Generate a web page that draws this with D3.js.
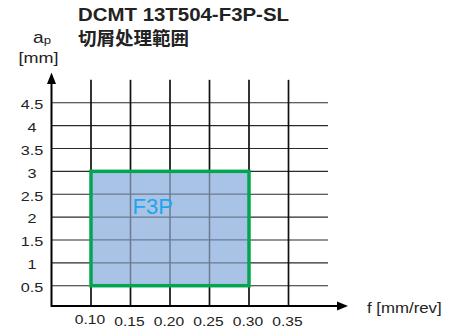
<!DOCTYPE html>
<html>
<head>
<meta charset="utf-8">
<script src="https://cdn.jsdelivr.net/npm/d3@7"></script>
<style>
  html, body { margin: 0; padding: 0; background: #fff; }
  svg { display: block; }
  text { font-family: "Liberation Sans", Arial, Helvetica, sans-serif; fill: #222; }
</style>
</head>
<body>
<svg id="chart" width="459" height="334"></svg>
<script>
// Feed rate (mm/rev) grid positions and labels
const feedTicks = [0.10, 0.15, 0.20, 0.25, 0.30, 0.35];
const feedLabels = ["0.10", "0.15", "0.20", "0.25", "0.30", "0.35"];
// Depth of cut (mm) grid positions and labels
const depthTicks = [0.5, 1, 1.5, 2, 2.5, 3, 3.5, 4, 4.5];
const depthLabels = ["0.5", "1", "1.5", "2", "2.5", "3", "3.5", "4", "4.5"];
// Chip-control region for the F3P breaker
const regionName = "F3P";
const regionFeed = [0.10, 0.30];
const regionDepth = [0.5, 3];
const titleLines = ["DCMT 13T504-F3P-SL", "切屑处理範囲"];

const svg = d3.select("#chart");
const WIDE = 1.2; // horizontal stretch of the lettering

// place a text at (px, py) and widen it horizontally
function placeWide(sel, px, py, k = WIDE) {
  return sel.attr("transform", `translate(${px},${py}) scale(${k},1)`);
}

const x = d3.scaleLinear().domain([0.05, 0.40]).range([51.5, 328]);
const y = d3.scaleLinear().domain([0.5, 4.5]).range([285.7, 102.7]);
const axisY = 306;
const gridTop = y(5);

// horizontal grid
svg.append("g").selectAll("line").data(depthTicks).join("line")
  .attr("x1", x(0.05)).attr("x2", x(0.40))
  .attr("y1", d => y(d)).attr("y2", d => y(d))
  .attr("stroke", "#2a2a2a").attr("stroke-width", 1.1);

// vertical grid
svg.append("g").selectAll("line").data(feedTicks).join("line")
  .attr("x1", d => x(d)).attr("x2", d => x(d))
  .attr("y1", gridTop).attr("y2", axisY)
  .attr("stroke", "#111").attr("stroke-width", 1.7);

// region fill
const rx = x(regionFeed[0]), rw = x(regionFeed[1]) - x(regionFeed[0]);
const ry = y(regionDepth[1]), rh = y(regionDepth[0]) - y(regionDepth[1]);
svg.append("clipPath").attr("id", "regionClip")
  .append("rect").attr("x", rx).attr("y", ry).attr("width", rw).attr("height", rh);
svg.append("rect")
  .attr("x", rx).attr("y", ry).attr("width", rw).attr("height", rh)
  .attr("fill", "#a9c3e7");

// grid seen through the region
const inner = svg.append("g").attr("clip-path", "url(#regionClip)");
inner.selectAll("line.h").data(depthTicks).join("line").attr("class", "h")
  .attr("x1", x(0.05)).attr("x2", x(0.40))
  .attr("y1", d => y(d)).attr("y2", d => y(d))
  .attr("stroke", "#6b7a90").attr("stroke-width", 1.3);
inner.selectAll("line.v").data(feedTicks).join("line").attr("class", "v")
  .attr("x1", d => x(d)).attr("x2", d => x(d))
  .attr("y1", gridTop).attr("y2", axisY)
  .attr("stroke", "#6b7a90").attr("stroke-width", 1.5);

// region outline
svg.append("rect")
  .attr("x", rx).attr("y", ry).attr("width", rw).attr("height", rh)
  .attr("fill", "none").attr("stroke", "#03a64f").attr("stroke-width", 3.5);

svg.append("text")
  .attr("x", x(0.1525)).attr("y", y(2.07))
  .style("font-size", "22px").style("fill", "#1fa6ea")
  .text(regionName);

// axes with arrowheads
svg.append("line").attr("x1", x(0.05)).attr("x2", 340)
  .attr("y1", axisY).attr("y2", axisY).attr("stroke", "#000").attr("stroke-width", 2);
svg.append("path").attr("d", `M337,${axisY - 4.5}L348,${axisY}L337,${axisY + 4.5}Z`).attr("fill", "#000");
svg.append("line").attr("x1", x(0.05)).attr("x2", x(0.05))
  .attr("y1", axisY + 1).attr("y2", 82).attr("stroke", "#000").attr("stroke-width", 2);
svg.append("path").attr("d", `M${x(0.05) - 4.5},84L${x(0.05)},72.5L${x(0.05) + 4.5},84Z`).attr("fill", "#000");

// tick labels
const xAxis = d3.axisBottom(x).tickValues(feedTicks)
  .tickFormat((d, i) => feedLabels[i]).tickSize(0).tickPadding(0);
const gx = svg.append("g").attr("transform", `translate(-1.5,${axisY + 11})`).call(xAxis);
gx.select(".domain").remove();
gx.selectAll("text").style("font-size", "13px").style("fill", "#222")
  .attr("transform", `scale(${WIDE},1)`)
  .attr("dy", (d, i) => i === 0 ? "0.55em" : "0.71em");

const yAxis = d3.axisLeft(y).tickValues(depthTicks)
  .tickFormat((d, i) => depthLabels[i]).tickSize(0).tickPadding(0);
const gy = svg.append("g").attr("transform", "translate(32,1.5)").call(yAxis);
gy.select(".domain").remove();
gy.selectAll("text").attr("text-anchor", "middle")
  .attr("transform", `scale(${WIDE},1)`)
  .style("font-size", "13.5px").style("fill", "#222");

// axis titles
placeWide(svg.append("text"), 367, 313).style("font-size", "14px").text("f [mm/rev]");
const ap = placeWide(svg.append("text"), 33, 43).style("font-size", "16px");
ap.append("tspan").text("a");
ap.append("tspan").style("font-size", "11px").attr("dy", 1).text("p");
placeWide(svg.append("text"), 38.5, 63).attr("text-anchor", "middle")
  .style("font-size", "15px").text("[mm]");

// chart title
svg.append("text").attr("x", 78).attr("y", 21)
  .attr("textLength", 211).attr("lengthAdjust", "spacingAndGlyphs")
  .style("font-size", "18px").style("font-weight", "bold")
  .text(titleLines[0]);
svg.append("text").attr("x", 78).attr("y", 45)
  .style("font-family", "'Noto Sans CJK JP', 'Noto Sans CJK SC', sans-serif")
  .style("font-size", "18.5px").style("font-weight", "bold")
  .text(titleLines[1]);
</script>
</body>
</html>
